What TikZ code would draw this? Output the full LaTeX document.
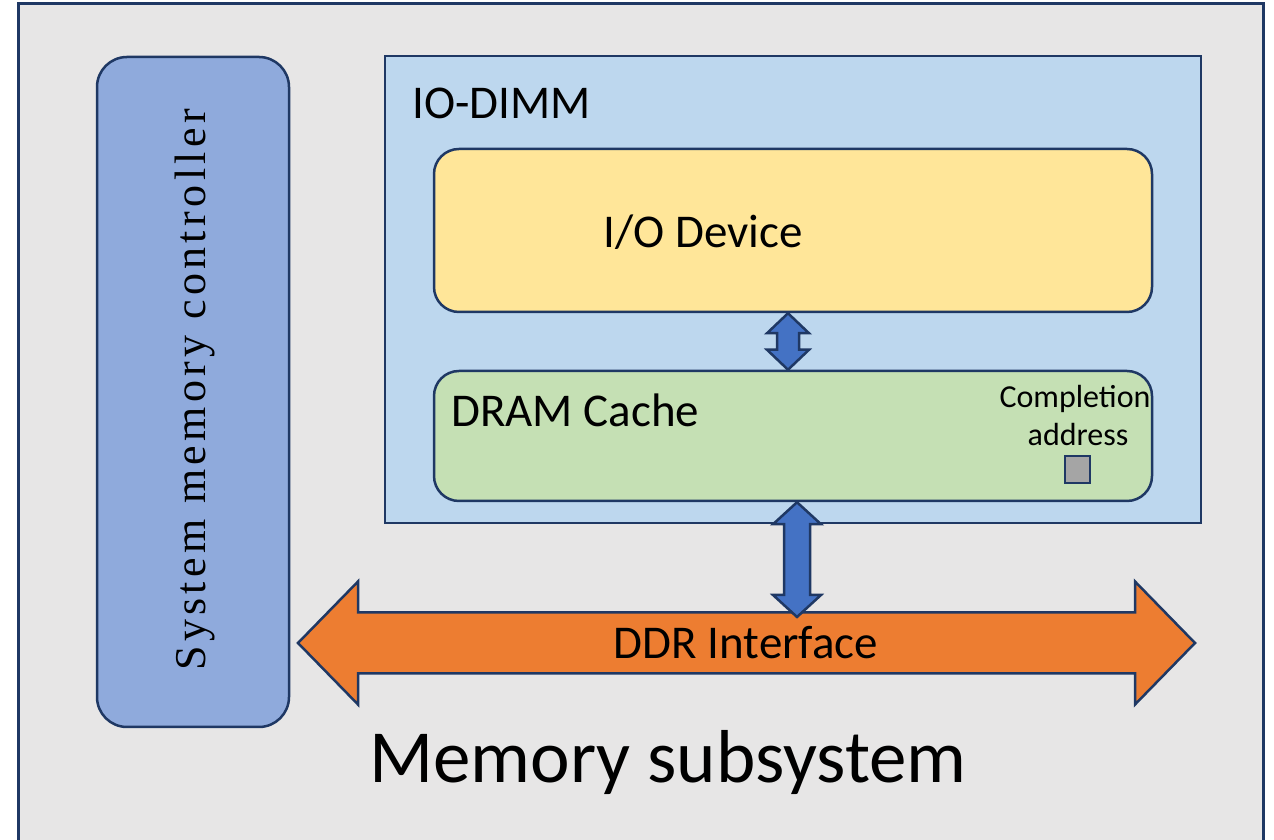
\documentclass[tikz,border=0pt]{standalone}
\usepackage{fontspec}
\setmainfont{Carlito}
\newfontfamily\smcfont{Liberation Serif}[LetterSpace=10]
\usetikzlibrary{calc}
\definecolor{navy}{HTML}{1F3864}
\definecolor{framefill}{HTML}{E7E6E6}
\definecolor{dimmfill}{HTML}{BDD7EE}
\definecolor{devfill}{HTML}{FFE699}
\definecolor{dramfill}{HTML}{C5E0B4}
\definecolor{smcfill}{HTML}{8FAADC}
\definecolor{arrowblue}{HTML}{4472C4}
\definecolor{ddrorange}{HTML}{ED7D31}
\definecolor{sqgray}{HTML}{A5A5A5}
\newcommand\vblockarrow[5]{%
  \filldraw[blockarrow] let \p1=(#1), \p2=(#2) in
    (\x1,\y1) -- (\x1+#4,\y1-#5) -- (\x1+#3,\y1-#5) -- (\x1+#3,\y2+#5) -- (\x1+#4,\y2+#5)
    -- (\x1,\y2) -- (\x1-#4,\y2+#5) -- (\x1-#3,\y2+#5) -- (\x1-#3,\y1-#5) -- (\x1-#4,\y1-#5) -- cycle;}
\begin{document}
\begin{tikzpicture}[x=1pt,y=1pt,
  box/.style={draw=navy, line width=2.5pt, inner sep=0pt, anchor=center},
  blockarrow/.style={draw=navy, line width=2.5pt, fill=arrowblue, line join=miter},
  bigtext/.style={font=\fontsize{47}{56}\selectfont, inner sep=0pt}]
\useasboundingbox (0,0) rectangle (1274,840);
\clip (0,0) rectangle (1274,840);
% outer frame
\node[box, line width=3pt, fill=framefill, minimum width=1245pt, minimum height=846pt] (frame) at (640.5,413) {};
% system memory controller
\node[box, fill=smcfill, rounded corners=30pt, minimum width=192pt, minimum height=670pt] (smc) at (193,448) {};
\node[rotate=90, inner sep=0pt, font=\smcfont\fontsize{44}{52}\selectfont] (smctext) at (195,450) {System memory controller};
% IO-DIMM
\node[box, fill=dimmfill, minimum width=816pt, minimum height=467pt] (dimm) at (793,550.5) {};
\node[bigtext, anchor=west] (dimmlabel) at (412,737) {IO-DIMM};
% I/O device
\node[box, fill=devfill, rounded corners=25pt, minimum width=718pt, minimum height=163pt] (dev) at (793,609.5) {};
\node[bigtext] (devlabel) at (703,608) {I/O Device};
% DRAM cache
\node[box, fill=dramfill, rounded corners=25pt, minimum width=718pt, minimum height=130pt] (dram) at (793,404) {};
\node[bigtext, anchor=west] (dramlabel) at (451,430) {DRAM Cache};
\node[inner sep=0pt, align=center, font=\fontsize{32}{38}\selectfont] (compl) at (1075,424) {Completion\\\hspace*{6pt}address};
\node[draw=navy, line width=2pt, fill=sqgray, minimum width=25pt, minimum height=27pt, inner sep=0pt] (sq) at (1077.5,370.5) {};
% DDR interface arrow
\coordinate (ddrL) at (298,197);
\coordinate (ddrR) at (1195,197);
\filldraw[draw=navy, line width=2.5pt, fill=ddrorange, line join=miter] let \p1=(ddrL), \p2=(ddrR) in
  (\x1,\y1) -- (\x1+60,\y1+61.5) -- (\x1+60,\y1+30.5) -- (\x2-60,\y1+30.5) -- (\x2-60,\y1+61.5)
  -- (\x2,\y2) -- (\x2-60,\y1-61.5) -- (\x2-60,\y1-30.5) -- (\x1+60,\y1-30.5) -- (\x1+60,\y1-61.5) -- cycle;
\node[bigtext] (ddrlabel) at (746,197) {DDR Interface};
% vertical arrows
\coordinate (a1top) at ($(dev.south)+(-5,0)$);
\coordinate (a1bot) at ($(dram.north)+(-5,0)$);
\vblockarrow{a1top}{a1bot}{11}{21}{20}
\coordinate (a2top) at ($(dram.south)+(4,0)$);
\coordinate (a2bot) at (797,223);
\vblockarrow{a2top}{a2bot}{13}{24}{22}
% title
\node[inner sep=0pt, font=\fontsize{75}{90}\selectfont] (title) at (668,77) {Memory subsystem};
\end{tikzpicture}
\end{document}
